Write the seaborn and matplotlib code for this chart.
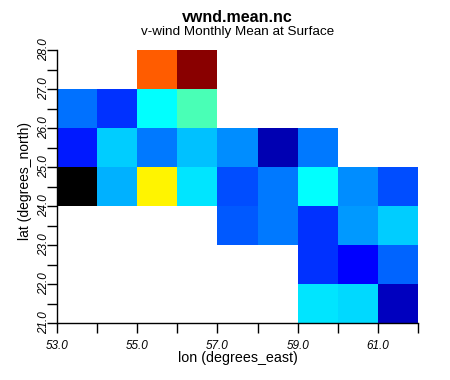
import numpy as np
import pandas as pd
import matplotlib
matplotlib.use('Agg')
import matplotlib.pyplot as plt
from matplotlib.colors import LinearSegmentedColormap
import seaborn as sns

###########################################################################################
# Data (v-wind, m/s) -- rows from north (27) to south (21), cells are 1 deg wide
###########################################################################################

lons = [53, 54, 55, 56, 57, 58, 59, 60, 61]
lats = [27, 26, 25, 24, 23, 22, 21]
nan = np.nan
vwnd = [
    [nan,   nan,   1.20,  1.96,  nan,   nan,   nan,   nan,   nan],
    [-1.05, -1.30, -0.50, -0.20, nan,   nan,   nan,   nan,   nan],
    [-1.40, -0.70, -1.03, -0.75, -0.95, -1.82, -1.03, nan,   nan],
    [-2.40, -0.80, 0.60,  -0.60, -1.20, -1.03, -0.50, -0.95, -1.20],
    [nan,   nan,   nan,   nan,   -1.15, -1.03, -1.30, -0.90, -0.70],
    [nan,   nan,   nan,   nan,   nan,   nan,   -1.30, -1.52, -1.10],
    [nan,   nan,   nan,   nan,   nan,   nan,   -0.60, -0.65, -1.78],
]
vmin, vmax = -2.0, 2.0

###########################################################################################
# Plot
###########################################################################################

plt.rcParams['font.family'] = ['Liberation Sans', 'DejaVu Sans']

df = pd.DataFrame(vwnd, index=lats, columns=lons)

# jet-like map with a pure cyan step, black below the range
cmap = LinearSegmentedColormap.from_list('vwnd', [
    (0.0, (0, 0, 0.5)), (0.11, (0, 0, 1)), (0.125, (0, 0, 1)),
    (0.375, (0, 1, 1)), (0.64, (1, 1, 0)), (0.89, (1, 0, 0)), (1.0, (0.5, 0, 0))])
cmap.set_under('black')

fig = plt.figure(figsize=(4.5, 3.8), dpi=100)
ax = fig.add_axes([57 / 450, 1 - 323 / 380, (418 - 57) / 450, (323 - 50) / 380])
sns.heatmap(df, ax=ax, cmap=cmap, vmin=vmin, vmax=vmax, cbar=False,
            xticklabels=False, yticklabels=False)

# axis decorations
for side in ['left', 'bottom']:
    ax.spines[side].set_visible(True)
    ax.spines[side].set_color('black')
    ax.spines[side].set_linewidth(1.0)

xt = np.arange(len(lons) + 1)
ax.set_xticks(xt)
ax.set_xticklabels(['%.1f' % (lons[0] + i) if i % 2 == 0 else '' for i in xt],
                   fontsize=8.5, style='italic', rotation=0)
yt = np.arange(0, len(lats) + 0.5, 0.5)
ax.set_yticks(yt)
ax.set_yticklabels(['%.1f' % (lats[0] + 1 - v) if v % 1 == 0 else '' for v in yt],
                   fontsize=8.5, style='italic', rotation=90, va='center')
ax.tick_params(direction='out', length=7, width=1, color='black')
ax.tick_params(axis='x', pad=5)
ax.tick_params(axis='y', pad=-2)
ax.set_xlim(0, len(lons))
ax.set_ylim(len(lats), 0)

ax.set_xlabel('lon (degrees_east)', fontsize=10.3)
ax.set_ylabel('lat (degrees_north)', fontsize=10)
ax.xaxis.set_label_coords(0.5, -0.102)
ax.yaxis.set_label_coords(-0.068, 0.52)

fig.text(237.5 / 450, 1 - 17 / 380, 'vwnd.mean.nc', ha='center', va='center',
         fontsize=11.5, fontweight='bold')
fig.text(237.5 / 450, 1 - 31.5 / 380, 'v-wind Monthly Mean at Surface', ha='center',
         va='center', fontsize=9.7)

plt.savefig('out.png', dpi=100)
plt.close('all')
